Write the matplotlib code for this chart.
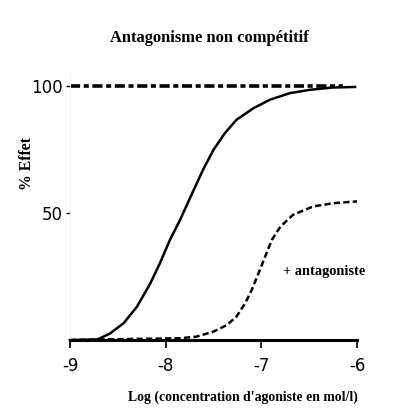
import matplotlib
matplotlib.use('Agg')
import matplotlib.pyplot as plt

# values
agonist_x = [-9.0, -8.72, -8.686, -8.58, -8.44, -8.30, -8.16, -8.06, -7.955, -7.85,
             -7.746, -7.61, -7.50, -7.38, -7.26, -7.08, -6.91, -6.70,
             -6.49, -6.25, -6.02]
agonist_y = [0.0, 0.2, 0.7, 2.6, 6.6, 13.1, 22.3, 30.2, 39.4, 47.2,
             55.8, 66.9, 74.8, 81.4, 86.6, 91.2, 94.5, 97.1,
             98.4, 99.3, 99.5]

antag_x = [-9.0, -7.85, -7.68, -7.50, -7.36, -7.26, -7.17, -7.10, -7.03, -6.96,
           -6.89, -6.80, -6.67, -6.46, -6.25, -6.00]
antag_y = [0.0, 0.7, 1.3, 3.3, 5.9, 9.2, 14.4, 19.7, 26.2, 32.8,
           39.4, 44.6, 49.2, 52.5, 53.8, 54.5]

max_x = [-9.0, -6.15]
max_y = [100, 100]

xticks = [-9, -8, -7, -6]
xtick_labels = ['-9', '-8', '-7', '-6']
yticks = [50, 100]
ytick_labels = ['50', '100']

narrow = ['Liberation Sans Narrow', 'DejaVu Sans']
serif = ['Liberation Serif', 'DejaVu Serif']

fig = plt.figure(figsize=(3.97, 4.18), dpi=100)
ax = fig.add_axes([70 / 397, (418 - 340) / 418, 287 / 397, (340 - 73) / 418])

ax.plot(max_x, max_y, color='black', lw=2.6, dashes=(2.8, 1.0, 1.4, 1.0), clip_on=False)
ax.plot(agonist_x, agonist_y, color='black', lw=1.8, clip_on=False)
ax.plot(antag_x, antag_y, color='black', lw=1.8, dashes=(2.5, 1.3), clip_on=False)

ax.set_xlim(-9, -6)
ax.set_ylim(0, 105)

for s in ['top', 'right']:
    ax.spines[s].set_visible(False)
ax.spines['left'].set_color('#eeeeee')
ax.spines['left'].set_linewidth(0.8)
ax.spines['bottom'].set_linewidth(2.2)

ax.set_xticks(xticks)
ax.set_xticklabels(xtick_labels, fontfamily=narrow, fontsize=12)
ax.set_yticks(yticks)
ax.set_yticklabels(ytick_labels, fontfamily=narrow, fontsize=12)
ax.tick_params(axis='x', length=6, width=1.2, pad=6)
ax.tick_params(axis='y', length=3, width=1.0, color='black', pad=2)

fig.text(209 / 397, 0.91, 'Antagonisme non compétitif', ha='center', va='center',
         fontfamily=serif, fontweight='bold', fontsize=11.9)
fig.text(358 / 397, 1 - 397 / 418, "Log (concentration d'agoniste en mol/l)",
         ha='right', va='center', fontfamily=serif, fontweight='bold', fontsize=9.9)
fig.text(27 / 397, 1 - 163 / 418, '% Effet', rotation=90, ha='center', va='center',
         fontfamily=serif, fontweight='bold', fontsize=11.3)
ax.text(-6.77, 26.8, '+ antagoniste', ha='left', va='center',
        fontfamily=serif, fontweight='bold', fontsize=10.4)

fig.savefig('out.png', dpi=100)
